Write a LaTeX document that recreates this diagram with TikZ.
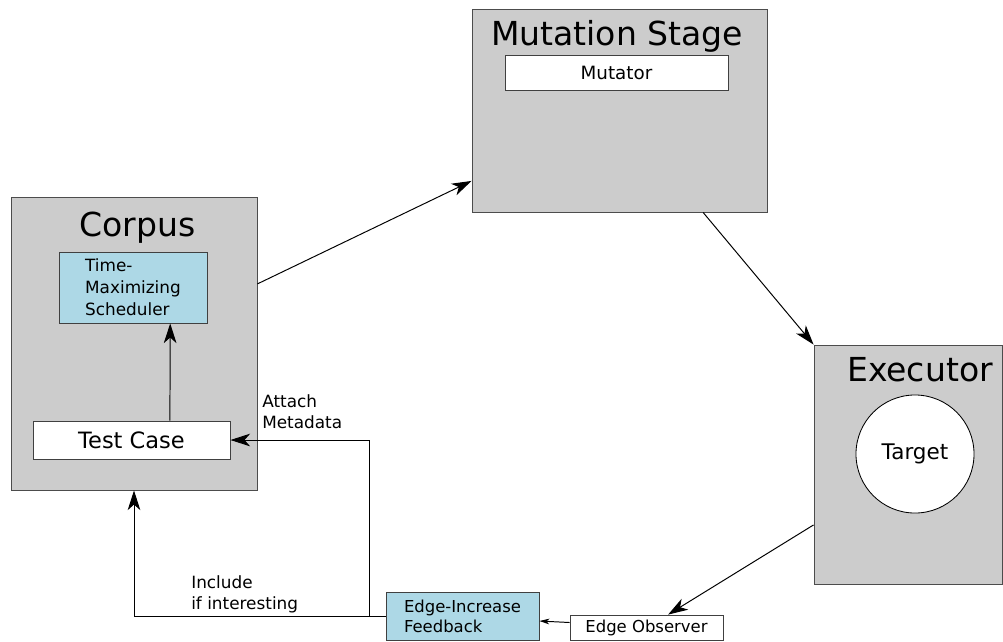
\documentclass[tikz,border=0pt]{standalone}
\usepackage{fontspec}
\setmainfont{DejaVu Sans}
\usetikzlibrary{arrows.meta}
\definecolor{boxgray}{HTML}{CCCCCC}
\definecolor{schedblue}{HTML}{ADD8E6}
\begin{document}
\begin{tikzpicture}[x=0.025cm,y=-0.025cm,
  stage/.style={draw=black!70,fill=boxgray,line width=0.6pt,inner sep=0},
  inbox/.style={draw=black!75,fill=white,line width=0.6pt,inner sep=0,font=\fontsize{12}{15}\selectfont},
  bluebox/.style={draw=black!75,fill=schedblue,line width=0.6pt,inner sep=0,align=left},
  title/.style={anchor=base,font=\fontsize{23.5}{27}\selectfont,inner sep=0},
  note/.style={anchor=north west,align=left,inner sep=0,font=\fontsize{12}{15.5}\selectfont},
  flow/.style={line width=0.7pt,-{Stealth[length=14pt,width=9pt,inset=4pt]}}]
\useasboundingbox (0,0) rectangle (1003,641);
% Corpus
\node[stage,minimum width=6.15cm,minimum height=7.325cm] (corpus) at (134,343.5) {};
\node[title] (corpustitle) at (137.5,236) {Corpus};
\node[bluebox,minimum width=3.7cm,minimum height=1.775cm,font=\fontsize{12}{15.6}\selectfont] (scheduler) at (133,287.5) {Time-\\Maximizing\\Scheduler};
\node[inbox,minimum width=4.925cm,minimum height=0.95cm,font=\fontsize{16}{19}\selectfont] (testcase) at (131.5,440) {Test Case};
% Mutation stage
\node[stage,minimum width=7.375cm,minimum height=5.075cm] (mutation) at (619.5,110.5) {};
\node[title] (mutationtitle) at (617,45) {Mutation Stage};
\node[inbox,minimum width=5.575cm,minimum height=0.875cm,font=\fontsize{13}{15}\selectfont] (mutator) at (616.5,72.5) {Mutator};
% Executor
\node[stage,minimum width=4.7cm,minimum height=5.975cm] (executor) at (908,464.5) {};
\node[title] (executortitle) at (920,381) {Executor};
\node[circle,draw,fill=white,line width=0.6pt,minimum size=2.95cm,inner sep=0,font=\fontsize{15.3}{18}\selectfont] (target) at (915,454) {Target};
% Feedback
\node[bluebox,minimum width=3.825cm,minimum height=1.2cm,font=\fontsize{11.7}{14.2}\selectfont] (feedback) at (462.5,616) {Edge-Increase\\Feedback};
\node[inbox,minimum width=3.825cm,minimum height=0.625cm,font=\fontsize{11.7}{15}\selectfont] (observer) at (646.5,627.5) {Edge Observer};
\node[note] (attach) at (262,394) {Attach\\Metadata};
\node[note] (include) at (191,575) {Include\\if interesting};
% Connectors
\draw[flow] ([yshift=1.49cm]corpus.east) -- ([yshift=-1.76cm]mutation.west);
\draw[flow] ([xshift=2.09cm]mutation.south) -- (executor.north west);
\draw[flow] ([yshift=-1.51cm]executor.west) -- ([xshift=0.54cm]observer.north);
\draw[line width=0.7pt,-{Stealth[length=7pt,width=4pt,inset=2pt]}] ([yshift=0.125cm]observer.west) -- ([yshift=-0.125cm]feedback.east);
\coordinate (split) at (369,616);
\draw[line width=0.7pt] (feedback.west) -- (split);
\draw[flow] (split) |- (testcase.east);
\draw[flow] (split) -| (corpus.south);
\draw[flow] ([xshift=0.96cm]testcase.north) -- ([xshift=0.93cm]scheduler.south);
\end{tikzpicture}
\end{document}
